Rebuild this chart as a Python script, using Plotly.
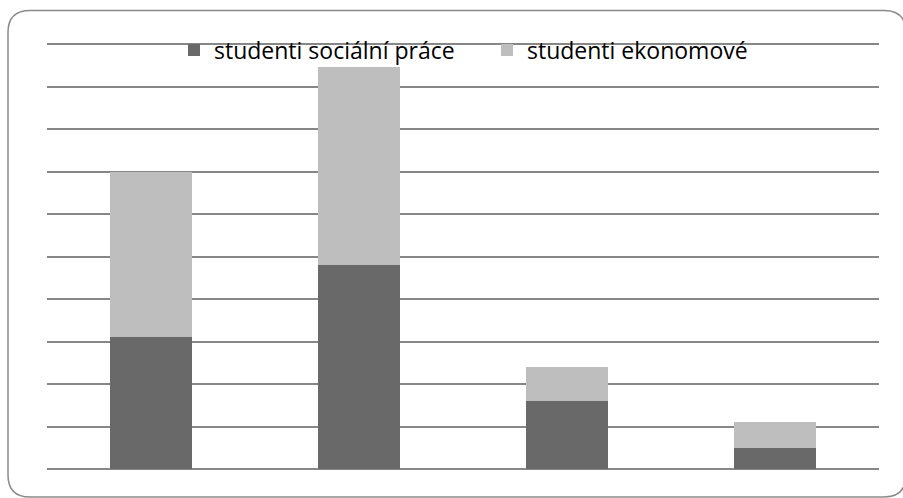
import plotly.graph_objects as go

categories = ["1", "2", "3", "4"]
social_work = [3.1, 4.8, 1.6, 0.5]
economists = [3.9, 4.65, 0.8, 0.6]
series_names = ["studenti sociální práce", "studenti ekonomové"]

W, H = 903, 498
ml, mr, mt, mb = 47, 24, 42, 29
pw, ph = W - ml - mr, H - mt - mb
ytop = 10 + 2 / 42.5

fig = go.Figure()
fig.add_trace(go.Bar(x=categories, y=social_work, name=series_names[0],
                     marker=dict(color="#696969", line=dict(width=0))))
fig.add_trace(go.Bar(x=categories, y=economists, name=series_names[1],
                     marker=dict(color="#bebebe", line=dict(width=0))))

def px2paper(x, y):
    return (x - ml) / pw, (H - mb - y) / ph

# rounded frame
L, T, R, B, r = 8, 10.5, 906, 497, 22
def pt(x, y):
    a, b = px2paper(x, y)
    return f"{a:.5f},{b:.5f}"
path = (f"M {pt(L, T + r)} Q {pt(L, T)} {pt(L + r, T)} L {pt(R - r, T)} "
        f"Q {pt(R, T)} {pt(R, T + r)} L {pt(R, B - r)} Q {pt(R, B)} {pt(R - r, B)} "
        f"L {pt(L + r, B)} Q {pt(L, B)} {pt(L, B - r)} Z")
fig.add_shape(type="path", path=path, xref="paper", yref="paper",
              line=dict(color="#8a8a8a", width=1.5), layer="below")

lx, ly = px2paper(174, 50)
fig.update_layout(
    width=W, height=H,
    margin=dict(l=ml, r=mr, t=mt, b=mb, pad=0),
    barmode="stack",
    bargap=0.603,
    plot_bgcolor="white",
    paper_bgcolor="white",
    font=dict(family="Open Sans", color="black"),
    showlegend=True,
    legend=dict(orientation="h", x=lx, y=ly, xanchor="left", yanchor="middle",
                bgcolor="rgba(0,0,0,0)", font=dict(size=23, family="Open Sans"),
                entrywidth=268, traceorder="normal"),
    xaxis=dict(showticklabels=False, ticks="", showgrid=False, showline=False),
    yaxis=dict(range=[0, ytop], dtick=1, showticklabels=False, ticks="",
               showgrid=True, gridcolor="#878787", gridwidth=2,
               zeroline=True, zerolinecolor="#878787", zerolinewidth=2,
               showline=False),
)

fig.write_html("out.html")
